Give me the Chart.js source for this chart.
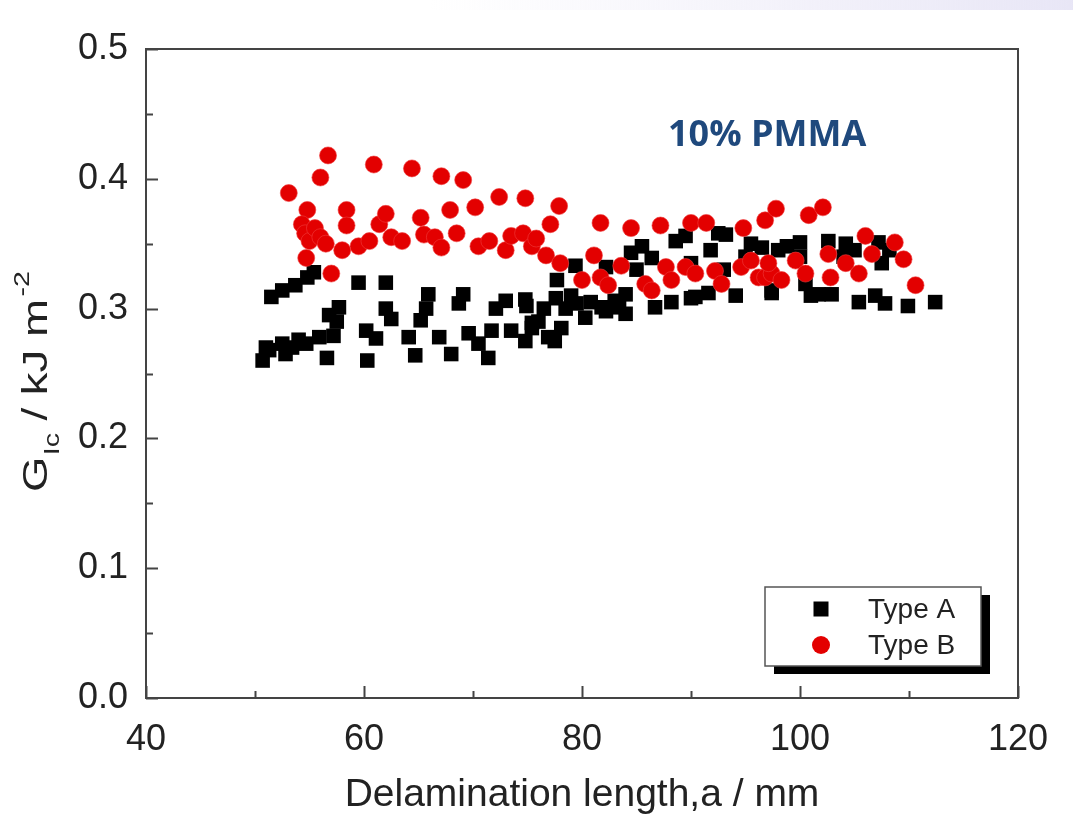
<!DOCTYPE html>
<html>
<head>
<meta charset="utf-8">
<script src="https://cdn.jsdelivr.net/npm/chart.js@4.4.1/dist/chart.umd.min.js"></script>
<style>
  body { margin: 0; background: #fff; }
  canvas { display: block; }
</style>
</head>
<body>
<canvas id="glcChart" width="1073" height="820"></canvas>
<script>
// Type A (black squares)
let typeAX = [50.7, 51.0, 51.5, 52.5, 52.5, 52.8, 53.7, 54.7, 54.8, 55.4, 55.9, 56.6, 56.8, 57.2, 57.7,
    59.5, 60.2, 60.3, 61.1, 62.0, 62.0, 62.5, 64.1, 64.7, 65.7, 65.2, 65.9, 66.9, 68.0, 68.7,
    69.1, 69.6, 70.5, 71.4, 71.7, 72.1, 73.0, 73.5, 74.8, 74.8, 75.4, 75.4, 74.9, 76.9, 77.5,
    77.6, 77.7, 78.1, 79.4, 79.5, 80.3, 81.8, 82.2, 82.2, 83.4, 84.0, 84.0, 84.5, 85.5, 86.4,
    86.7, 88.2, 88.6, 89.5, 90.0, 90.4, 91.6, 91.8, 92.5, 94.1, 95.5, 97.4, 97.4, 100.0, 100.5,
    101.0, 101.7, 102.6, 102.9, 104.2, 105.4, 106.9, 107.2, 107.5, 107.8, 109.9, 112.4,
    85.0, 90.0, 93.0, 95.0, 98.0, 100.0, 104.0,
    51.3, 53.4, 54.0, 57.5, 76.0, 76.5, 78.5, 79.0, 80.8, 83.0, 93.2, 96.5, 98.8, 105.0, 108.2];
let typeAY = [0.260, 0.270, 0.309, 0.273, 0.314, 0.265, 0.318, 0.273, 0.324, 0.328, 0.278, 0.262, 0.295, 0.279, 0.301,
    0.320, 0.283, 0.260, 0.277, 0.320, 0.300, 0.292, 0.278, 0.264, 0.300, 0.291, 0.311, 0.278, 0.265, 0.304,
    0.311, 0.281, 0.273, 0.262, 0.283, 0.300, 0.306, 0.283, 0.307, 0.275, 0.285, 0.289, 0.302, 0.278, 0.275,
    0.308, 0.322, 0.285, 0.333, 0.304, 0.293, 0.301, 0.298, 0.332, 0.301, 0.311, 0.296, 0.343, 0.348, 0.339,
    0.301, 0.305, 0.352, 0.356, 0.308, 0.309, 0.312, 0.345, 0.358, 0.310, 0.350, 0.312, 0.314, 0.351, 0.319,
    0.310, 0.311, 0.352, 0.311, 0.350, 0.305, 0.310, 0.351, 0.335, 0.304, 0.302, 0.305,
    0.330, 0.335, 0.330, 0.340, 0.345, 0.340, 0.340,
    0.268, 0.270, 0.276, 0.290, 0.290, 0.300, 0.300, 0.310, 0.305, 0.306, 0.357, 0.347, 0.348, 0.345, 0.345];

// Type B (red circles)
let typeBX = [53.1, 54.8, 54.3, 54.6, 55.0, 55.5, 56.0, 56.5, 54.7, 57.0, 56.0, 56.7, 58.4, 58.4, 58.0,
    59.5, 60.9, 60.5, 61.4, 62.0, 62.5, 63.5, 64.4, 65.2, 65.5, 66.5, 67.1, 67.9, 67.1, 68.5,
    69.1, 70.2, 70.5, 71.5, 72.4, 73.0, 73.5, 74.8, 74.6, 75.4, 75.8, 76.7, 77.1, 77.9, 78.0,
    80.0, 81.1, 81.7, 81.7, 82.4, 83.6, 84.5, 85.8, 86.4, 87.2, 87.7, 88.2, 89.5, 90.0, 90.4,
    91.4, 92.2, 92.8, 94.6, 94.8, 95.5, 96.2, 96.8, 96.8, 97.4, 97.1, 97.8, 98.3, 99.6, 100.5,
    100.8, 102.1, 102.6, 102.8, 104.2, 105.4, 106.0, 106.6, 108.7, 109.5, 110.6];
let typeBY = [0.389, 0.376, 0.365, 0.358, 0.352, 0.362, 0.355, 0.350, 0.339, 0.327, 0.401, 0.418, 0.376, 0.364, 0.345,
    0.348, 0.411, 0.352, 0.365, 0.373, 0.355, 0.352, 0.408, 0.370, 0.357, 0.355, 0.402, 0.376, 0.347, 0.358,
    0.399, 0.378, 0.348, 0.352, 0.386, 0.345, 0.356, 0.385, 0.358, 0.348, 0.354, 0.341, 0.365, 0.379, 0.335,
    0.322, 0.341, 0.366, 0.324, 0.318, 0.333, 0.362, 0.319, 0.314, 0.364, 0.332, 0.322, 0.332, 0.366, 0.327,
    0.366, 0.329, 0.319, 0.332, 0.362, 0.337, 0.324, 0.368, 0.324, 0.327, 0.335, 0.377, 0.322, 0.337, 0.327,
    0.372, 0.378, 0.342, 0.324, 0.335, 0.327, 0.356, 0.342, 0.351, 0.338, 0.318];

let xTicks = [40, 60, 80, 100, 120];
let yTicks = [0.0, 0.1, 0.2, 0.3, 0.4, 0.5];

const AXIS_COLOR = "#444";
const TEXT_COLOR = "#222";
const FONT = "'Liberation Sans', Arial, sans-serif";

function toPoints(xs, ys) {
    return xs.map((x, i) => ({ x: x, y: ys[i] }));
}

// frame, inward ticks, y title with sub/superscript, legend box, annotation
const decor = {
    id: 'decor',
    beforeDraw(chart) {
        let ctx = chart.ctx;
        let g = ctx.createLinearGradient(430, 0, 1073, 0);
        g.addColorStop(0, "rgba(236,234,247,0)");
        g.addColorStop(1, "rgba(232,230,246,1)");
        ctx.save();
        ctx.fillStyle = g;
        ctx.fillRect(430, 0, 643, 10);
        ctx.restore();
    },
    afterDraw(chart) {
        let ctx = chart.ctx;
        let a = chart.chartArea;
        let xs = chart.scales.x, ys = chart.scales.y;
        ctx.save();
        ctx.strokeStyle = AXIS_COLOR;
        ctx.lineWidth = 2;
        ctx.strokeRect(a.left, a.top, a.right - a.left, a.bottom - a.top);

        // inward ticks
        ctx.beginPath();
        for (let v = 40; v <= 120; v += 10) {
            let px = Math.round(xs.getPixelForValue(v)) + 0.5;
            let len = (v % 20 === 0) ? 12 : 7;
            ctx.moveTo(px, a.bottom);
            ctx.lineTo(px, a.bottom - len);
        }
        for (let i = 0; i <= 10; i++) {
            let v = i * 0.05;
            let py = Math.round(ys.getPixelForValue(v)) + 0.5;
            let len = (i % 2 === 0) ? 12 : 7;
            ctx.moveTo(a.left, py);
            ctx.lineTo(a.left + len, py);
        }
        ctx.stroke();

        // x title
        ctx.fillStyle = TEXT_COLOR;
        ctx.font = "39px " + FONT;
        ctx.textAlign = "center";
        ctx.textBaseline = "alphabetic";
        ctx.fillText("Delamination length,a / mm", (a.left + a.right) / 2, 806);

        // y title: G_Ic / kJ m^-2 (stretched along its length like the original)
        ctx.save();
        ctx.translate(47, 492);
        ctx.rotate(-Math.PI / 2);
        ctx.scale(1.3, 1);
        ctx.textAlign = "left";
        let x = 0;
        ctx.font = "35px " + FONT;
        ctx.fillText("G", x, 0);
        x += ctx.measureText("G").width + 1;
        ctx.font = "22px " + FONT;
        ctx.fillText("Ic", x, 12);
        x += ctx.measureText("Ic").width;
        ctx.font = "35px " + FONT;
        ctx.fillText(" / kJ m", x, 0);
        x += ctx.measureText(" / kJ m").width + 2;
        ctx.font = "22px " + FONT;
        ctx.fillText("-2", x, -18);
        ctx.restore();

        // legend with shadow
        let lx = 765, ly = 587, lw = 216, lh = 79;
        ctx.fillStyle = "#000";
        ctx.fillRect(lx + 9, ly + 8, lw, lh);
        ctx.fillStyle = "#fff";
        ctx.fillRect(lx, ly, lw, lh);
        ctx.strokeStyle = "#555";
        ctx.lineWidth = 1.5;
        ctx.strokeRect(lx, ly, lw, lh);
        let items = chart.data.datasets;
        items.forEach((ds, i) => {
            let cy = 609 + i * 36;
            ctx.fillStyle = ds.backgroundColor;
            if (ds.pointStyle === 'rect') {
                ctx.fillRect(821 - 7.5, cy - 7.5, 15, 15);
            } else {
                ctx.beginPath();
                ctx.arc(821, cy, 9, 0, Math.PI * 2);
                ctx.fill();
            }
            ctx.fillStyle = TEXT_COLOR;
            ctx.font = "28px " + FONT;
            ctx.textAlign = "left";
            ctx.textBaseline = "middle";
            ctx.fillText(ds.label, 868, cy + 1);
        });

        // annotation
        ctx.fillStyle = "#1F497D";
        ctx.font = "bold 36px 'Open Sans', 'Liberation Sans', sans-serif";
        ctx.textAlign = "left";
        ctx.textBaseline = "alphabetic";
        ctx.fillText("10% PMMA", 668, 146);
        ctx.restore();
    }
};

window.onload = () => {
    let ctx = document.getElementById('glcChart').getContext('2d');
    new Chart(ctx, {
        type: 'scatter',
        data: {
            datasets: [
                {
                    label: "Type A",
                    data: toPoints(typeAX, typeAY),
                    pointStyle: 'rect',
                    pointRadius: 10.3,
                    pointHoverRadius: 10.3,
                    backgroundColor: "#000",
                    borderWidth: 0,
                    order: 1
                },
                {
                    label: "Type B",
                    data: toPoints(typeBX, typeBY),
                    pointStyle: 'circle',
                    pointRadius: 8.5,
                    pointHoverRadius: 8.5,
                    backgroundColor: "#E30000",
                    borderColor: "rgba(240,60,60,0.6)",
                    borderWidth: 1,
                    order: 0
                }
            ]
        },
        options: {
            responsive: false,
            animation: false,
            events: [],
            layout: { padding: { top: 49, right: 55, left: 0, bottom: 0 } },
            plugins: {
                legend: { display: false },
                tooltip: { enabled: false }
            },
            scales: {
                x: {
                    type: 'linear',
                    min: 40,
                    max: 120,
                    afterFit: (s) => { s.height = 122; },
                    afterBuildTicks: (s) => { s.ticks = xTicks.map(v => ({ value: v })); },
                    grid: { display: false },
                    border: { display: true, color: AXIS_COLOR, width: 2 },
                    ticks: {
                        color: TEXT_COLOR,
                        padding: 12,
                        maxRotation: 0,
                        font: { family: FONT, size: 36 }
                    }
                },
                y: {
                    type: 'linear',
                    min: 0,
                    max: 0.5,
                    afterFit: (s) => { s.width = 146; },
                    afterBuildTicks: (s) => { s.ticks = yTicks.map(v => ({ value: v })); },
                    grid: { display: false },
                    border: { display: true, color: AXIS_COLOR, width: 2 },
                    ticks: {
                        color: TEXT_COLOR,
                        padding: 10,
                        font: { family: FONT, size: 36 },
                        callback: (v) => Number(v).toFixed(1)
                    }
                }
            }
        },
        plugins: [decor]
    });
};
</script>
</body>
</html>
